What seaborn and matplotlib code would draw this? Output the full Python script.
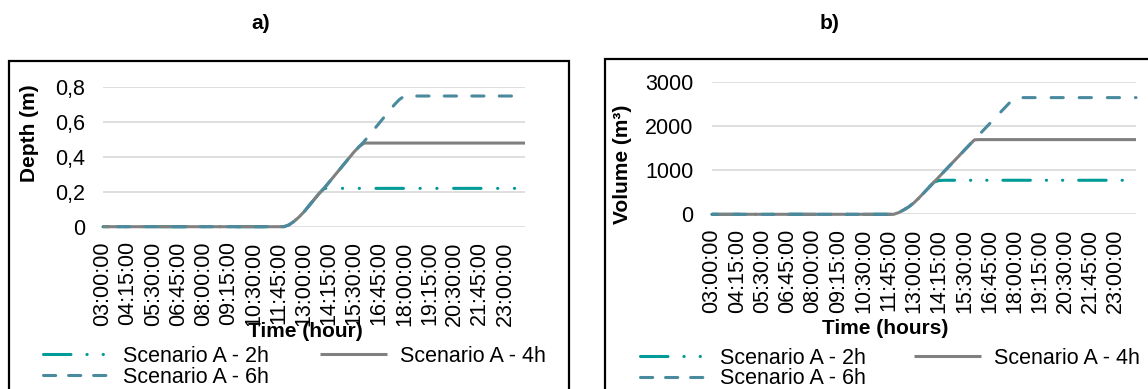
import matplotlib
matplotlib.use("Agg")
import matplotlib.pyplot as plt
from matplotlib.patches import Rectangle
from matplotlib.lines import Line2D
import pandas as pd
import seaborn as sns

# ---------------- data ----------------
time_steps = [
    "03:00:00", "03:15:00", "03:30:00", "03:45:00", "04:00:00", "04:15:00", "04:30:00", "04:45:00",
    "05:00:00", "05:15:00", "05:30:00", "05:45:00", "06:00:00", "06:15:00", "06:30:00", "06:45:00",
    "07:00:00", "07:15:00", "07:30:00", "07:45:00", "08:00:00", "08:15:00", "08:30:00", "08:45:00",
    "09:00:00", "09:15:00", "09:30:00", "09:45:00", "10:00:00", "10:15:00", "10:30:00", "10:45:00",
    "11:00:00", "11:15:00", "11:30:00", "11:45:00", "12:00:00", "12:15:00", "12:30:00", "12:45:00",
    "13:00:00", "13:15:00", "13:30:00", "13:45:00", "14:00:00", "14:15:00", "14:30:00", "14:45:00",
    "15:00:00", "15:15:00", "15:30:00", "15:45:00", "16:00:00", "16:15:00", "16:30:00", "16:45:00",
    "17:00:00", "17:15:00", "17:30:00", "17:45:00", "18:00:00", "18:15:00", "18:30:00", "18:45:00",
    "19:00:00", "19:15:00", "19:30:00", "19:45:00", "20:00:00", "20:15:00", "20:30:00", "20:45:00",
    "21:00:00", "21:15:00", "21:30:00", "21:45:00", "22:00:00", "22:15:00", "22:30:00", "22:45:00",
    "23:00:00", "23:15:00", "23:30:00", "23:45:00", "00:00:00",
]
tick_labels = ["03:00:00", "04:15:00", "05:30:00", "06:45:00", "08:00:00", "09:15:00",
               "10:30:00", "11:45:00", "13:00:00", "14:15:00", "15:30:00", "16:45:00",
               "18:00:00", "19:15:00", "20:30:00", "21:45:00", "23:00:00"]
series_names = ["Scenario A - 2h", "Scenario A - 4h", "Scenario A - 6h"]

depth_2h = [
    0, 0, 0, 0, 0, 0, 0, 0, 0, 0,
    0, 0, 0, 0, 0, 0, 0, 0, 0, 0,
    0, 0, 0, 0, 0, 0, 0, 0, 0, 0,
    0, 0, 0, 0, 0, 0, 0, 0.01, 0.03, 0.055,
    0.085, 0.12, 0.155, 0.19, 0.22, 0.22, 0.22, 0.22, 0.22, 0.22,
    0.22, 0.22, 0.22, 0.22, 0.22, 0.22, 0.22, 0.22, 0.22, 0.22,
    0.22, 0.22, 0.22, 0.22, 0.22, 0.22, 0.22, 0.22, 0.22, 0.22,
    0.22, 0.22, 0.22, 0.22, 0.22, 0.22, 0.22, 0.22, 0.22, 0.22,
    0.22, 0.22, 0.22, 0.22, 0.22,
]
depth_4h = [
    0, 0, 0, 0, 0, 0, 0, 0, 0, 0,
    0, 0, 0, 0, 0, 0, 0, 0, 0, 0,
    0, 0, 0, 0, 0, 0, 0, 0, 0, 0,
    0, 0, 0, 0, 0, 0, 0, 0.01, 0.03, 0.055,
    0.085, 0.12, 0.155, 0.19, 0.22, 0.255, 0.29, 0.325, 0.36, 0.395,
    0.43, 0.46, 0.48, 0.48, 0.48, 0.48, 0.48, 0.48, 0.48, 0.48,
    0.48, 0.48, 0.48, 0.48, 0.48, 0.48, 0.48, 0.48, 0.48, 0.48,
    0.48, 0.48, 0.48, 0.48, 0.48, 0.48, 0.48, 0.48, 0.48, 0.48,
    0.48, 0.48, 0.48, 0.48, 0.48,
]
depth_6h = [
    0, 0, 0, 0, 0, 0, 0, 0, 0, 0,
    0, 0, 0, 0, 0, 0, 0, 0, 0, 0,
    0, 0, 0, 0, 0, 0, 0, 0, 0, 0,
    0, 0, 0, 0, 0, 0, 0, 0.01, 0.03, 0.055,
    0.085, 0.12, 0.155, 0.19, 0.22, 0.255, 0.29, 0.325, 0.36, 0.395,
    0.43, 0.46, 0.49, 0.525, 0.56, 0.595, 0.63, 0.665, 0.70, 0.73,
    0.75, 0.75, 0.75, 0.75, 0.75, 0.75, 0.75, 0.75, 0.75, 0.75,
    0.75, 0.75, 0.75, 0.75, 0.75, 0.75, 0.75, 0.75, 0.75, 0.75,
    0.75, 0.75, 0.75, 0.75, 0.75,
]
volume_2h = [
    0, 0, 0, 0, 0, 0, 0, 0, 0, 0,
    0, 0, 0, 0, 0, 0, 0, 0, 0, 0,
    0, 0, 0, 0, 0, 0, 0, 0, 0, 0,
    0, 0, 0, 0, 0, 0, 0, 40, 100, 170,
    260, 370, 490, 610, 730, 765, 770, 770, 770, 770,
    770, 770, 770, 770, 770, 770, 770, 770, 770, 770,
    770, 770, 770, 770, 770, 770, 770, 770, 770, 770,
    770, 770, 770, 770, 770, 770, 770, 770, 770, 770,
    770, 770, 770, 770, 770,
]
volume_4h = [
    0, 0, 0, 0, 0, 0, 0, 0, 0, 0,
    0, 0, 0, 0, 0, 0, 0, 0, 0, 0,
    0, 0, 0, 0, 0, 0, 0, 0, 0, 0,
    0, 0, 0, 0, 0, 0, 0, 40, 100, 170,
    260, 370, 490, 610, 730, 850, 970, 1090, 1210, 1330,
    1450, 1570, 1685, 1690, 1690, 1690, 1690, 1690, 1690, 1690,
    1690, 1690, 1690, 1690, 1690, 1690, 1690, 1690, 1690, 1690,
    1690, 1690, 1690, 1690, 1690, 1690, 1690, 1690, 1690, 1690,
    1690, 1690, 1690, 1690, 1690,
]
volume_6h = [
    0, 0, 0, 0, 0, 0, 0, 0, 0, 0,
    0, 0, 0, 0, 0, 0, 0, 0, 0, 0,
    0, 0, 0, 0, 0, 0, 0, 0, 0, 0,
    0, 0, 0, 0, 0, 0, 0, 40, 100, 170,
    260, 370, 490, 610, 730, 850, 970, 1090, 1210, 1330,
    1450, 1570, 1690, 1810, 1930, 2050, 2170, 2290, 2410, 2530,
    2640, 2640, 2640, 2640, 2640, 2640, 2640, 2640, 2640, 2640,
    2640, 2640, 2640, 2640, 2640, 2640, 2640, 2640, 2640, 2640,
    2640, 2640, 2640, 2640, 2640,
]
depth_ticks = [0, 0.2, 0.4, 0.6, 0.8]
depth_tick_labels = ["0", "0,2", "0,4", "0,6", "0,8"]
volume_ticks = [0, 1000, 2000, 3000]
volume_tick_labels = ["0", "1000", "2000", "3000"]

# ---------------- style ----------------
sns.set_theme(style="white")
plt.rcParams["font.family"] = ["Liberation Sans", "DejaVu Sans"]
plt.rcParams["text.color"] = "black"
plt.rcParams["axes.labelcolor"] = "black"

W, H = 1148, 389
FS = 15.5
FS_LAB = 15
LW = 2.2
colors = {"Scenario A - 2h": "#009B96", "Scenario A - 4h": "#808080", "Scenario A - 6h": "#4A8A9E"}
styles_a = {"Scenario A - 2h": (7.0, (9, 5.4, 0.1, 5.4, 0.1, 5.4)),
            "Scenario A - 4h": "-",
            "Scenario A - 6h": (4.2, (4, 5))}
styles_b = {"Scenario A - 2h": (0.0, (9, 5.2, 0.1, 5.2, 0.1, 5.2)),
            "Scenario A - 4h": "-",
            "Scenario A - 6h": (2.1, (4, 5.2))}
legend_styles = {"Scenario A - 2h": (0, (9, 5.2, 0.1, 5.2, 0.1, 5.2)),
                 "Scenario A - 4h": "-",
                 "Scenario A - 6h": (0, (4, 4.2))}


def fx(px):
    return px / W


def fy(py):
    return 1 - py / H


fig = plt.figure(figsize=(W / 100, H / 100), dpi=100)
fig.patch.set_facecolor("white")

# chart frames
fig.add_artist(Rectangle((fx(8.5), fy(420)), fx(560), fy(61) - fy(420), transform=fig.transFigure,
                         fill=False, ec="black", lw=1.6, zorder=0))
fig.add_artist(Rectangle((fx(604.5), fy(420)), fx(600), fy(59) - fy(420), transform=fig.transFigure,
                         fill=False, ec="black", lw=1.6, zorder=0))

ax_a = fig.add_axes([fx(103), fy(226.7), fx(525) - fx(103), fy(87.3) - fy(226.7)])
ax_b = fig.add_axes([fx(712), fy(214.3), fx(1136) - fx(712), fy(81.7) - fy(214.3)])

tick_pos = [time_steps.index(t) for t in tick_labels]


def draw(ax, series, styles, yticks, ylabels, ymax, ypad):
    for name, vals in zip(series_names, series):
        d = pd.DataFrame({"step": range(len(time_steps)), "value": vals})
        sns.lineplot(data=d, x="step", y="value", ax=ax, color=colors[name], linewidth=LW,
                     linestyle=styles[name], dash_capstyle="round", solid_capstyle="butt",
                     legend=False, clip_on=False, zorder=3)
    ax.set_xlim(0, len(time_steps) - 1)
    ax.set_ylim(0, ymax)
    ax.set_yticks(yticks)
    ax.set_yticklabels(ylabels, fontsize=FS, color="black")
    ax.set_xticks(tick_pos)
    ax.set_xticklabels(tick_labels, rotation=90, fontsize=FS, color="black")
    ax.tick_params(axis="x", length=0, pad=10.5)
    ax.tick_params(axis="y", length=0, pad=ypad)
    ax.yaxis.grid(True, color="#D9D9D9", lw=1.2)
    ax.xaxis.grid(False)
    for s in ax.spines.values():
        s.set_visible(False)
    ax.set_facecolor("none")


draw(ax_a, [depth_2h, depth_4h, depth_6h], styles_a, depth_ticks, depth_tick_labels, 0.8, 13)
draw(ax_b, [volume_2h, volume_4h, volume_6h], styles_b, volume_ticks, volume_tick_labels, 3000, 13.5)

# axis titles
ax_a.set_xlabel("Time (hour)", fontsize=FS_LAB, fontweight="bold")
ax_a.xaxis.label.set_va("center")
ax_a.xaxis.set_label_coords(fx(305), fy(331.5), transform=fig.transFigure)
ax_b.set_xlabel("Time (hours)", fontsize=FS_LAB, fontweight="bold")
ax_b.xaxis.label.set_va("center")
ax_b.xaxis.set_label_coords(fx(885.5), fy(329), transform=fig.transFigure)

ax_a.set_ylabel("Depth (m)", fontsize=FS_LAB, fontweight="bold")
ax_a.yaxis.label.set_va("center")
ax_a.yaxis.set_label_coords(fx(29.5), fy(133), transform=fig.transFigure)
ax_b.set_ylabel("Volume (m³)", fontsize=FS_LAB, fontweight="bold")
ax_b.yaxis.label.set_va("center")
ax_b.yaxis.set_label_coords(fx(623), fy(164), transform=fig.transFigure)

# panel titles
fig.text(fx(261), fy(23.5), "a)", ha="center", va="center", fontsize=FS_LAB, fontweight="bold")
fig.text(fx(830), fy(23.5), "b)", ha="center", va="center", fontsize=FS_LAB, fontweight="bold")

# legends (proxy handles so the dash pattern starts with a dash, as in the original)
order = [0, 2, 1]
for x0, y0, colsp in [(43, 346, 2.4), (640, 347.5, 2.25)]:
    proxies = [Line2D([], [], color=colors[n], lw=LW, linestyle=legend_styles[n],
                      dash_capstyle="round", solid_capstyle="butt") for n in series_names]
    fig.legend([proxies[i] for i in order], [series_names[i] for i in order], loc="upper left",
               bbox_to_anchor=(fx(x0), fy(y0)), bbox_transform=fig.transFigure, ncol=2,
               frameon=False, fontsize=FS, handlelength=3.1, handletextpad=0.6,
               columnspacing=colsp, labelspacing=0.0, borderpad=0, borderaxespad=0)

fig.savefig("out.png", dpi=100, facecolor="white")
